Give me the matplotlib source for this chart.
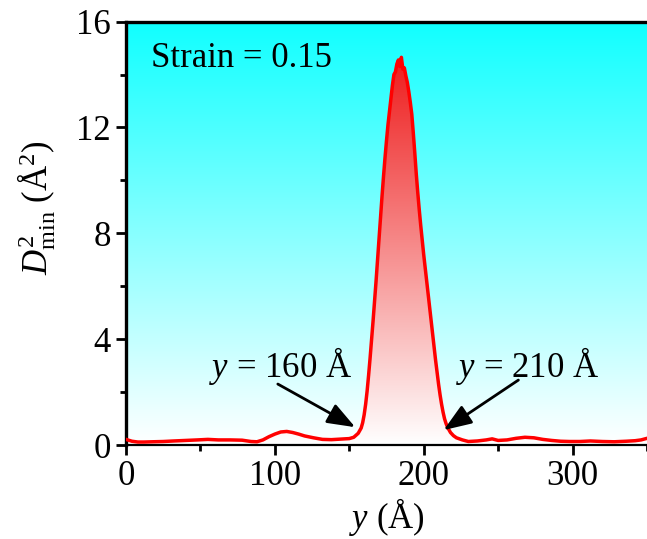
import numpy as np
import matplotlib
matplotlib.use("Agg")
import matplotlib.pyplot as plt
from matplotlib.colors import LinearSegmentedColormap
from matplotlib.ticker import MultipleLocator

plt.rcParams.update({
    "font.family": "serif",
    "font.serif": ["Liberation Serif", "DejaVu Serif"],
    "mathtext.fontset": "custom",
    "mathtext.rm": "Liberation Serif",
    "mathtext.it": "Liberation Serif:italic",
    "font.size": 25,
})

# D2min profile along y (Å)
y_pos = [0, 4, 8, 12, 18, 25, 32, 40, 48, 55, 62, 70, 78, 84, 88, 92, 96, 100,
         104, 108, 112, 116, 120, 126, 132, 138, 144, 150, 153, 156, 158, 159,
         160, 161, 162, 163, 164, 165, 166, 167, 168, 169, 170, 171, 172, 173,
         174, 175, 176, 177, 178, 179, 180, 181, 182, 183, 184, 185, 186, 187,
         188, 189, 190, 191, 192, 193, 194, 195, 196, 197, 198, 199, 200, 201,
         202, 203, 204, 205, 206, 207, 208, 209, 210, 211, 212, 213, 214, 215,
         216, 218, 220, 222, 226, 230, 236, 242, 246, 250, 256, 262, 268, 274,
         280, 286, 292, 298, 305, 312, 320, 328, 336, 342, 346, 350]
d2min = [0.22, 0.15, 0.12, 0.12, 0.13, 0.14, 0.16, 0.18, 0.2, 0.22, 0.2, 0.2,
         0.19, 0.14, 0.13, 0.2, 0.32, 0.42, 0.5, 0.52, 0.48, 0.42, 0.35, 0.28,
         0.22, 0.21, 0.23, 0.25, 0.3, 0.45, 0.65, 0.85,
         1.15, 1.55, 2.05, 2.65, 3.3, 4.0, 4.7, 5.45, 6.2, 7.0, 7.8, 8.6, 9.4,
         10.15, 10.85, 11.5, 12.1, 12.6, 13.1, 13.6, 14.0, 14.1, 14.4, 14.55,
         14.3, 14.65, 14.2, 14.25, 13.95, 13.7, 13.35, 12.95, 12.5, 11.8, 11.05,
         10.25, 9.55, 8.9, 8.3, 7.75, 7.2, 6.7, 6.2, 5.7, 5.2, 4.7, 4.2, 3.7,
         3.2, 2.75, 2.3, 1.9, 1.55, 1.25, 1.0, 0.82, 0.68, 0.48, 0.36, 0.28,
         0.2, 0.14, 0.16, 0.2, 0.24, 0.18, 0.2, 0.26, 0.3, 0.28, 0.22, 0.18,
         0.15, 0.14, 0.14, 0.16, 0.14, 0.13, 0.15, 0.17, 0.2, 0.26]

x_min, x_max = 0, 350
y_min, y_max = 0, 16

fig = plt.figure(figsize=(6.47, 5.39), dpi=100)
ax = fig.add_axes([0.1947, 0.174, 0.8053, 0.786])

# cyan-to-white background
bg_cmap = LinearSegmentedColormap.from_list("bg", ["#ffffff", "#10ffff"])
grad = np.linspace(0, 1, 256).reshape(-1, 1)
ax.imshow(grad, cmap=bg_cmap, origin="lower", aspect="auto",
          extent=[x_min, x_max, y_min, y_max], zorder=0)

# red-to-white gradient under the curve
fill_cmap = LinearSegmentedColormap.from_list("fill", ["#ffffff", "#ee1c1c"])
top = max(d2min)
img = ax.imshow(grad, cmap=fill_cmap, origin="lower", aspect="auto",
                extent=[x_min, x_max, 0, top], zorder=1)
poly = ax.fill_between(y_pos, d2min, 0, color="none")
clip = poly.get_paths()[0]
img.set_clip_path(clip, transform=ax.transData)
poly.remove()

ax.plot(y_pos, d2min, color="#ff0000", lw=2.5, zorder=3)

ax.set_xlim(x_min, x_max)
ax.set_ylim(y_min, y_max)
ax.xaxis.set_major_locator(MultipleLocator(100))
ax.xaxis.set_minor_locator(MultipleLocator(50))
ax.yaxis.set_major_locator(MultipleLocator(4))
ax.yaxis.set_minor_locator(MultipleLocator(2))
ax.tick_params(which="major", direction="out", length=7, width=2, pad=4)
ax.tick_params(which="minor", direction="out", length=4, width=2)
for side in ["left", "top"]:
    ax.spines[side].set_linewidth(2.4)
ax.spines["bottom"].set_linewidth(1.6)
ax.spines["right"].set_visible(False)

ax.set_xlabel(r"$\mathit{y}$ (Å)", labelpad=2)
ax.set_ylabel(r"$\mathit{D}^2_{\rm min}$ (Å$^2$)")
ax.yaxis.set_label_coords(-0.13, 0.56)

ax.text(17, 14.6, "Strain = 0.15", ha="left", va="center", zorder=4)

# labels with arrows pointing at the band edges
ax.text(103.5, 3.0, r"$\mathit{y}$ = 160 Å", ha="center", va="center", zorder=4)
ax.text(270, 3.0, r"$\mathit{y}$ = 210 Å", ha="center", va="center", zorder=4)
arrow = dict(arrowstyle="-|>,head_length=0.85,head_width=0.32", color="black",
             lw=2, shrinkA=0, shrinkB=0, mutation_scale=20)
ax.annotate("", xy=(154, 0.68), xytext=(102, 2.31), arrowprops=arrow, zorder=4)
ax.annotate("", xy=(213.4, 0.57), xytext=(263.6, 2.46), arrowprops=arrow, zorder=4)

fig.savefig("out.png", dpi=100)
